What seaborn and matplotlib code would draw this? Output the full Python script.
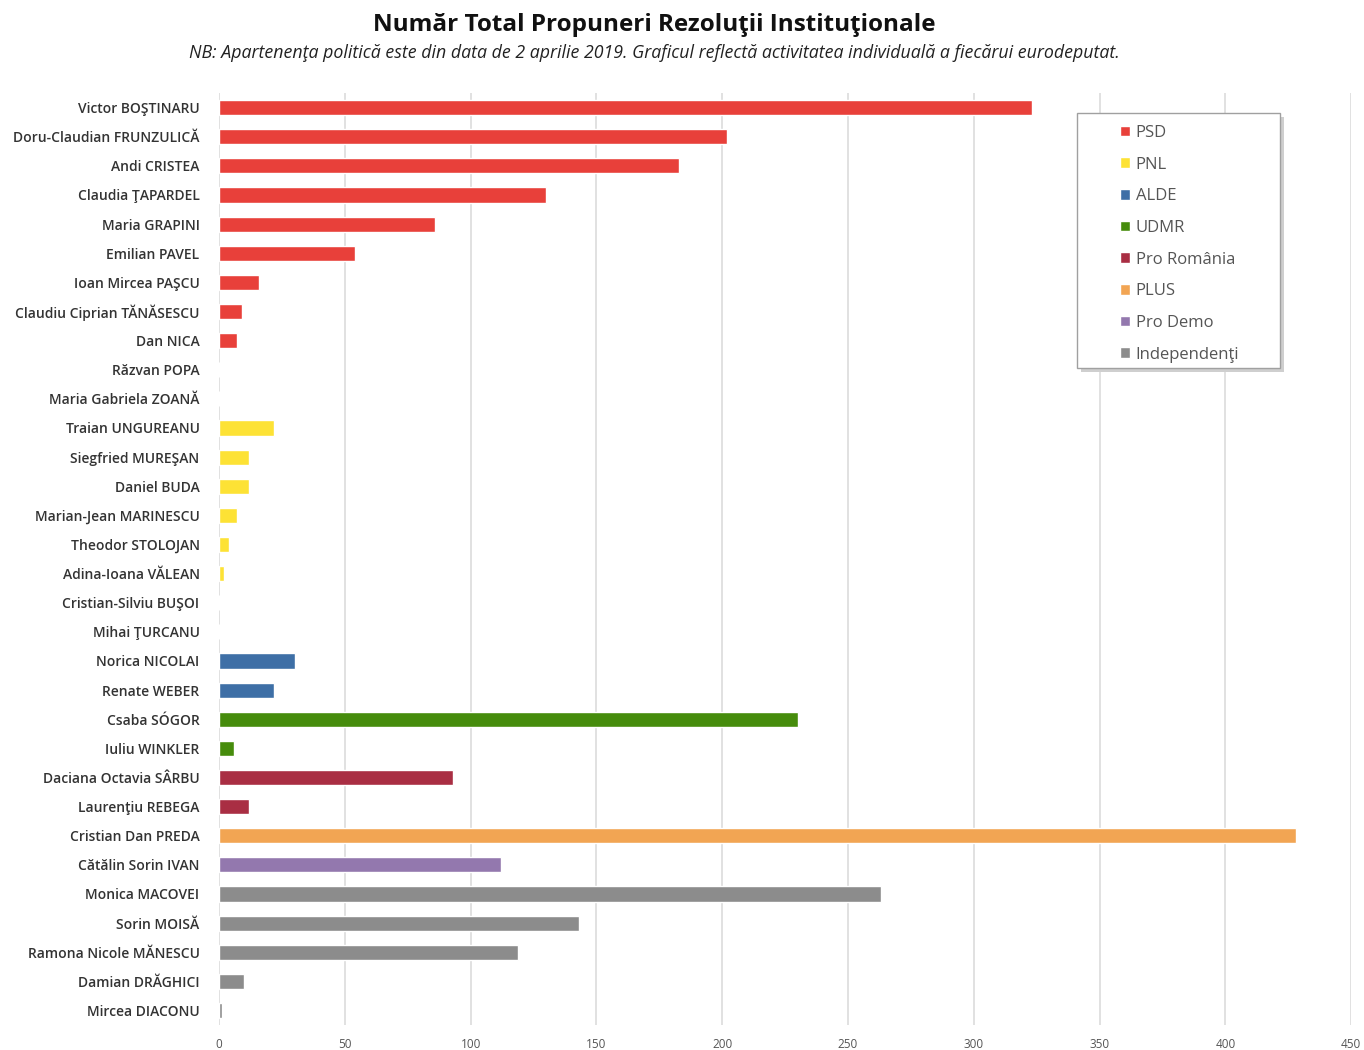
import matplotlib
matplotlib.use("Agg")
import matplotlib.pyplot as plt
from matplotlib.patches import Rectangle
import seaborn as sns
import pandas as pd

names = [
    "Victor BOŞTINARU", "Doru-Claudian FRUNZULICĂ", "Andi CRISTEA", "Claudia ŢAPARDEL",
    "Maria GRAPINI", "Emilian PAVEL", "Ioan Mircea PAŞCU", "Claudiu Ciprian TĂNĂSESCU",
    "Dan NICA", "Răzvan POPA", "Maria Gabriela ZOANĂ",
    "Traian UNGUREANU", "Siegfried MUREŞAN", "Daniel BUDA", "Marian-Jean MARINESCU",
    "Theodor STOLOJAN", "Adina-Ioana VĂLEAN", "Cristian-Silviu BUŞOI", "Mihai ŢURCANU",
    "Norica NICOLAI", "Renate WEBER",
    "Csaba SÓGOR", "Iuliu WINKLER",
    "Daciana Octavia SÂRBU", "Laurenţiu REBEGA",
    "Cristian Dan PREDA",
    "Cătălin Sorin IVAN",
    "Monica MACOVEI", "Sorin MOISĂ", "Ramona Nicole MĂNESCU", "Damian DRĂGHICI", "Mircea DIACONU",
]
values = [323, 202, 183, 130, 86, 54, 16, 9, 7, 0, 0,
          22, 12, 12, 7, 4, 2, 0, 0,
          30, 22,
          230, 6,
          93, 12,
          428,
          112,
          263, 143, 119, 10, 1]
parties = (["PSD"] * 11 + ["PNL"] * 8 + ["ALDE"] * 2 + ["UDMR"] * 2
           + ["Pro România"] * 2 + ["PLUS"] + ["Pro Demo"] + ["Independenţi"] * 5)
party_order = ["PSD", "PNL", "ALDE", "UDMR", "Pro România", "PLUS", "Pro Demo", "Independenţi"]
party_colors = ["#E8403A", "#FDE235", "#3E6FA6", "#468C0C", "#A92E43", "#F2A553", "#9378AE", "#8C8C8C"]

df = pd.DataFrame({"name": names, "value": values, "party": parties})

sns.set_style("white")
plt.rcParams["font.family"] = ["Open Sans", "DejaVu Sans"]

fig = plt.figure(figsize=(13.64, 10.5), dpi=100)
ax = fig.add_axes([0.1606, 0.0238, 0.8300, 0.8876])

sns.barplot(data=df, x="value", y="name", hue="party", hue_order=party_order,
            palette=party_colors, dodge=False, width=0.52, orient="h",
            saturation=1, ax=ax)

ax.set_xlim(0, 450)
ax.set_xticks(range(0, 451, 50))
ax.xaxis.grid(True, color="#dcdcdc", linewidth=1.2)
ax.set_axisbelow(True)
for s in ax.spines.values():
    s.set_visible(False)
ax.set_xlabel("")
ax.set_ylabel("")
ax.tick_params(axis="x", length=0, labelsize=8.5, labelcolor="#555555", pad=9)
ax.tick_params(axis="y", length=0, labelsize=10, labelcolor="#333333", pad=14)
for lbl in ax.get_yticklabels():
    lbl.set_fontweight("semibold")

# legend box with a soft shadow, placed in figure pixels
fw, fh = 1364, 1050
bx, by, bw, bh = 1077, 113, 203, 255
ax.add_patch(Rectangle(((bx + 4) / fw, 1 - (by + bh + 4) / fh), bw / fw, bh / fh,
                       transform=fig.transFigure, facecolor="#cfcfcf",
                       edgecolor="none", zorder=5, clip_on=False))
ax.add_patch(Rectangle((bx / fw, 1 - (by + bh) / fh), bw / fw, bh / fh,
                       transform=fig.transFigure, facecolor="white",
                       edgecolor="#a0a0a0", linewidth=1.0, zorder=6, clip_on=False))

leg = ax.legend(loc="upper left", bbox_to_anchor=(1120 / fw, 1 - 125 / fh),
                bbox_transform=fig.transFigure, frameon=False,
                handlelength=0.6, handleheight=0.6, handletextpad=0.35,
                labelspacing=0.94, borderpad=0, fontsize=12,
                labelcolor="#555555", borderaxespad=0)
leg.set_zorder(10)

fig.text(0.480, 0.976, "Număr Total Propuneri Rezoluţii Instituţionale",
         ha="center", va="center", fontsize=17.5, fontweight="bold", color="#111111")
fig.text(0.480, 0.950, "NB: Apartenenţa politică este din data de 2 aprilie 2019. "
         "Graficul reflectă activitatea individuală a fiecărui eurodeputat.",
         ha="center", va="center", fontsize=12.8, fontstyle="italic", color="#222222")

fig.savefig("out.png", dpi=100)
